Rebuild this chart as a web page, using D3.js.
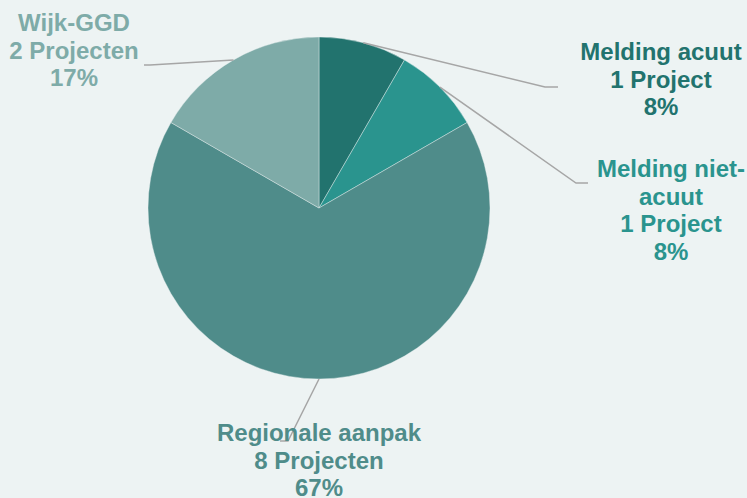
<!DOCTYPE html>
<html lang="nl">
<head>
<meta charset="UTF-8">
<title>Projecten</title>
<style>
    html, body { margin: 0; padding: 0; background: #edf3f3; }
    svg { display: block; }
    .lbl { font-family: "Liberation Sans", Arial, sans-serif; font-weight: bold; font-size: 24px; }
</style>
</head>
<body>
<div id="chart"></div>
<script src="https://cdnjs.cloudflare.com/ajax/libs/d3/7.8.5/d3.min.js"></script>
<script>
    // data
    var categories = ["Melding acuut", "Melding niet-acuut", "Regionale aanpak", "Wijk-GGD"];
    var counts = [1, 1, 8, 2];
    var nameLines = [["Melding acuut"], ["Melding niet-", "acuut"], ["Regionale aanpak"], ["Wijk-GGD"]];
    var colors = ["#22736e", "#2a948e", "#4f8c8a", "#7eaba8"];

    // label layout (elbow point, end of leader, text centre x, first baseline)
    var layout = [
        { elbow: [545, 87], end: [558, 87], tx: 661, ty: 60 },
        { elbow: [576, 183], end: [588, 183], tx: 671, ty: 177 },
        { elbow: [288, 441], end: [280, 441], tx: 319, ty: 441 },
        { elbow: [150, 65], end: [144, 65], tx: 74, ty: 31 }
    ];

    var width = 747, height = 498;
    var cx = 319, cy = 208, radius = 171;
    var total = d3.sum(counts);

    var svg = d3.select("#chart").append("svg")
        .attr("width", width)
        .attr("height", height);

    svg.append("rect").attr("width", width).attr("height", height).attr("fill", "#edf3f3");

    var data = categories.map(function (c, i) {
        return { name: c, value: counts[i], i: i };
    });

    var pie = d3.pie().sort(null).value(d => d.value);
    var arc = d3.arc().innerRadius(0).outerRadius(radius);
    var edgeArc = d3.arc().innerRadius(radius).outerRadius(radius);

    var arcs = pie(data);

    var g = svg.append("g").attr("transform", "translate(" + cx + "," + cy + ")");

    g.selectAll("path.slice")
        .data(arcs)
        .enter().append("path")
        .attr("class", "slice")
        .attr("fill", d => colors[d.data.i])
        .attr("stroke", "#edf3f3")
        .attr("stroke-width", 0.4)
        .attr("d", arc);

    // leader lines
    svg.selectAll("polyline.leader")
        .data(arcs)
        .enter().append("polyline")
        .attr("class", "leader")
        .attr("fill", "none")
        .attr("stroke", "#a6a6a6")
        .attr("stroke-width", 1.5)
        .attr("points", function (d) {
            var c = edgeArc.centroid(d);
            var L = layout[d.data.i];
            return [[cx + c[0], cy + c[1]], L.elbow, L.end].map(p => p.join(",")).join(" ");
        });

    // labels
    arcs.forEach(function (d) {
        var i = d.data.i;
        var L = layout[i];
        var n = d.data.value;
        var lines = nameLines[i].concat([
            n + (n === 1 ? " Project" : " Projecten"),
            Math.round(n / total * 100) + "%"
        ]);
        var t = svg.append("text")
            .attr("class", "lbl")
            .attr("fill", colors[i])
            .attr("text-anchor", "middle");
        lines.forEach(function (s, k) {
            t.append("tspan")
                .attr("x", L.tx)
                .attr("y", L.ty + k * 27.5)
                .text(s);
        });
    });
</script>
</body>
</html>
